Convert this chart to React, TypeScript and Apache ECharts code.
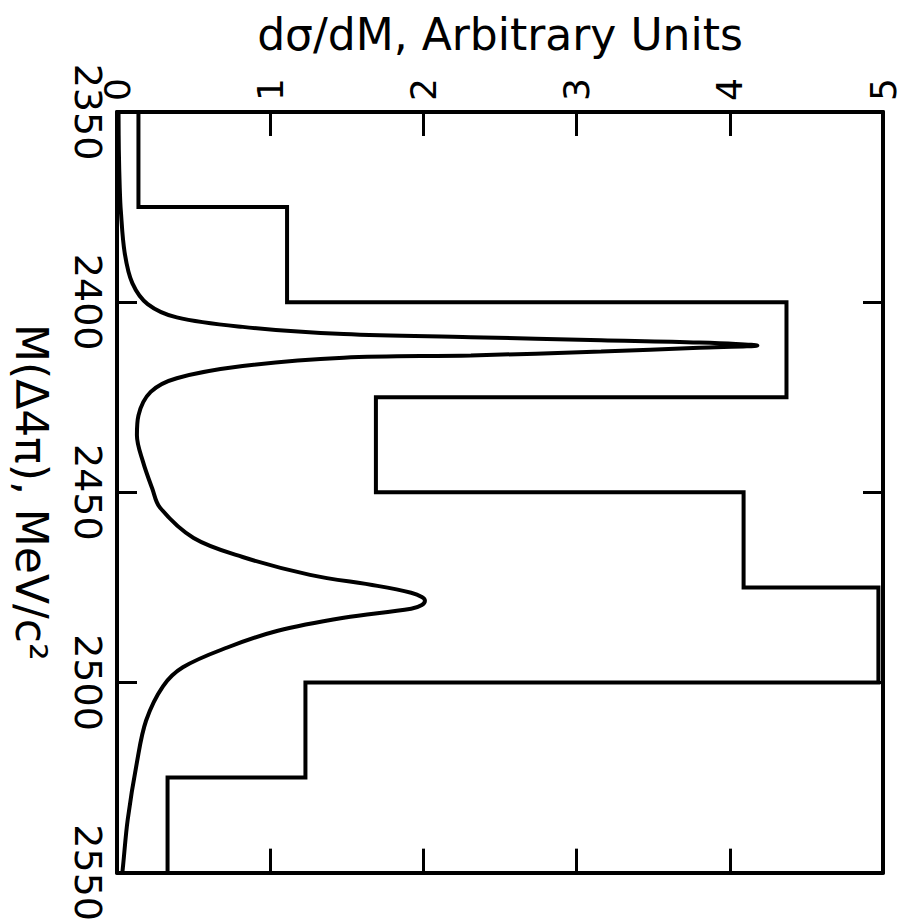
import React, { useEffect, useRef } from "react";
import * as echarts from "echarts";

// Histogram: bin edges (MeV/c^2) and heights (arbitrary units)
const binEdges = [2350, 2375, 2400, 2425, 2450, 2475, 2500, 2525, 2550];
const binValues = [0.14, 1.11, 4.37, 1.69, 4.09, 4.97, 1.23, 0.33];

// Smooth theoretical curve: mass and dσ/dM
const curveMass = [
  2350, 2360, 2370, 2376, 2387, 2395, 2400.5, 2404, 2406.5, 2408.4, 2409.2, 2410, 2410.6, 2411.4,
  2412.0, 2413, 2414, 2414.6, 2416.8, 2420, 2423.6, 2429.8, 2435, 2442, 2449, 2454, 2462, 2467,
  2471.7, 2474.6, 2476.4, 2477.5, 2478.5, 2479.6, 2480.6, 2483, 2486.4, 2490.8, 2496, 2501, 2510,
  2521, 2536, 2548, 2550,
];
const curveValue = [
  0.01, 0.012, 0.018, 0.025, 0.05, 0.1, 0.2, 0.39, 0.82, 1.48, 2.31, 3.16, 3.8, 4.18, 3.8, 3.16,
  2.31, 1.48, 0.82, 0.39, 0.22, 0.14, 0.13, 0.17, 0.23, 0.28, 0.5, 0.82, 1.26, 1.7, 1.92, 1.99,
  2.01, 1.99, 1.92, 1.48, 1.05, 0.72, 0.43, 0.3, 0.19, 0.13, 0.07, 0.04, 0.035,
];

const valueTicks = ["0", "1", "2", "3", "4", "5"];
const massTicks = ["2350", "2400", "2450", "2500", "2550"];

const FONT = "DejaVu Sans";

export default function App() {
  const ref = useRef<HTMLDivElement>(null);

  useEffect(() => {
    if (!ref.current) return;
    const chart = echarts.init(ref.current, null, { renderer: "svg" });

    const histData: number[][] = [];
    binValues.forEach((v, i) => {
      histData.push([v, binEdges[i]]);
      histData.push([v, binEdges[i + 1]]);
    });
    const curveData = curveMass.map((m, i) => [curveValue[i], m]);

    const tickStyle = { color: "#000", width: 3 };
    const lineStyle = { color: "#000", width: 4 };

    chart.setOption({
      animation: false,
      backgroundColor: "#fff",
      grid: { left: 117, top: 112, right: 21, bottom: 48, containLabel: false },
      xAxis: [
        {
          type: "value",
          position: "top",
          min: 0,
          max: 5,
          interval: 1,
          name: "dσ/dM, Arbitrary Units",
          nameLocation: "middle",
          nameGap: 56,
          nameTextStyle: { fontFamily: FONT, fontSize: 44, color: "#000" },
          axisLine: { show: true, onZero: false, lineStyle },
          axisTick: { show: true, inside: true, length: 24, lineStyle: tickStyle },
          axisLabel: {
            rotate: -90,
            fontFamily: FONT,
            fontSize: 36,
            color: "#000",
            margin: 11,
            formatter: (v: number) => valueTicks[Math.round(v)] ?? "",
          },
          splitLine: { show: false },
        },
        {
          type: "value",
          position: "bottom",
          min: 0,
          max: 5,
          interval: 1,
          axisLine: { show: true, onZero: false, lineStyle },
          axisTick: { show: true, inside: true, length: 24, lineStyle: tickStyle },
          axisLabel: { show: false },
          splitLine: { show: false },
        },
      ],
      yAxis: [
        {
          type: "value",
          position: "left",
          inverse: true,
          min: 2350,
          max: 2550,
          interval: 50,
          name: "M(Δ4π), MeV/c²",
          nameLocation: "middle",
          nameRotate: -90,
          nameGap: 64,
          nameTextStyle: { fontFamily: FONT, fontSize: 44, color: "#000" },
          axisLine: { show: true, onZero: false, lineStyle },
          axisTick: { show: true, inside: true, length: 20, lineStyle: tickStyle },
          axisLabel: {
            rotate: -90,
            fontFamily: FONT,
            fontSize: 38,
            color: "#000",
            margin: 10,
            formatter: (v: number) => {
              const s = String(Math.round(v));
              return massTicks.includes(s) ? s : "";
            },
          },
          splitLine: { show: false },
        },
        {
          type: "value",
          position: "right",
          inverse: true,
          min: 2350,
          max: 2550,
          interval: 50,
          axisLine: { show: true, onZero: false, lineStyle },
          axisTick: { show: true, inside: true, length: 20, lineStyle: tickStyle },
          axisLabel: { show: false },
          splitLine: { show: false },
        },
      ],
      series: [
        {
          type: "line",
          name: "histogram",
          xAxisIndex: 0,
          yAxisIndex: 0,
          data: histData,
          showSymbol: false,
          symbol: "none",
          lineStyle: { color: "#000", width: 4, join: "miter" },
          z: 3,
        },
        {
          type: "line",
          name: "curve",
          xAxisIndex: 0,
          yAxisIndex: 0,
          data: curveData,
          showSymbol: false,
          symbol: "none",
          smooth: 0.35,
          lineStyle: { color: "#000", width: 4 },
          z: 2,
        },
      ],
    });

    return () => chart.dispose();
  }, []);

  return (
    <div
      ref={ref}
      style={{ position: "fixed", left: 0, top: 0, width: 904, height: 924, background: "#fff" }}
    />
  );
}
